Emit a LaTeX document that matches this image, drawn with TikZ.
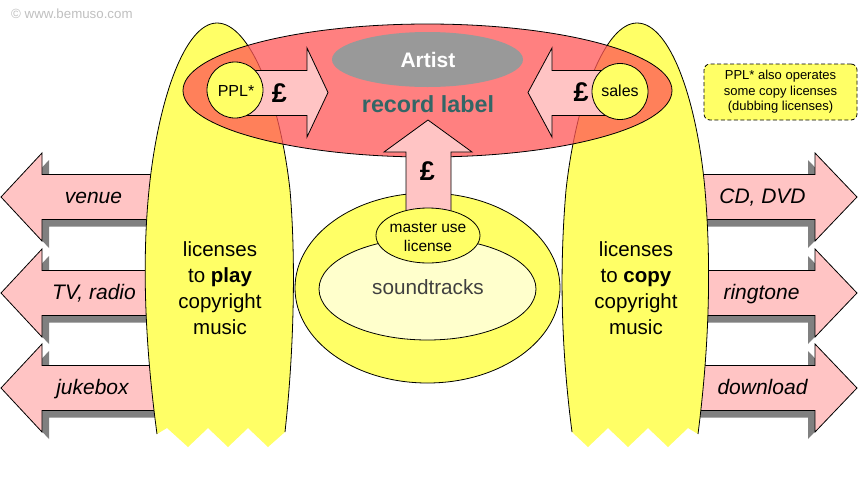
\documentclass[tikz,border=0pt]{standalone}
\usepackage{fontspec}
\setmainfont{Liberation Sans}
\definecolor{ylw}{HTML}{FFFF66}
\definecolor{lylw}{HTML}{FFFFCC}
\definecolor{pinkar}{HTML}{FFC4C4}
\definecolor{shad}{HTML}{808080}
\definecolor{redl}{RGB}{255,86,86}
\definecolor{lbltxt}{HTML}{336666}
\definecolor{artgray}{HTML}{999999}
\definecolor{wmgray}{HTML}{C0C0C0}
\definecolor{sndtxt}{HTML}{404040}
\begin{document}
\begin{tikzpicture}[x=1pt,y=-1pt,
  outl/.style={draw=black,line width=0.8pt},
  parrow/.style={fill=pinkar,draw=black,line width=0.8pt,line join=miter},
  shadowar/.style={fill=shad},
  arlabel/.style={font=\fontsize{21}{25}\selectfont\itshape,anchor=base,inner sep=0pt},
  bigtxt/.style={font=\fontsize{20.5}{26}\selectfont,align=center,inner sep=0pt},
  pound/.style={font=\fontsize{27}{29}\selectfont\bfseries,inner sep=0pt},
  smalltxt/.style={font=\fontsize{16}{19}\selectfont,inner sep=0pt,align=center}
]
\useasboundingbox (0,0) rectangle (864,480);
\fill[white] (0,0) rectangle (864,480);

% watermark
\node[anchor=west,text=wmgray,font=\fontsize{13.3}{15}\selectfont,inner sep=0pt] (wm) at (11,14) {© www.bemuso.com};

% left arrows with shadows
\foreach \c in {197,293,388}{
  \fill[shadowar,shift={(7,7)}] (1,\c) -- (42,\c-44) -- (42,\c-22.5) -- (200,\c-22.5) -- (200,\c+22.5) -- (42,\c+22.5) -- (42,\c+44) -- cycle;
  \path[parrow] (1,\c) -- (42,\c-44) -- (42,\c-22.5) -- (200,\c-22.5) -- (200,\c+22.5) -- (42,\c+22.5) -- (42,\c+44) -- cycle;
}
% right arrows with shadows
\foreach \c in {197,293,388}{
  \fill[shadowar,shift={(-7,7)}] (857,\c) -- (815,\c-44) -- (815,\c-22.5) -- (660,\c-22.5) -- (660,\c+22.5) -- (815,\c+22.5) -- (815,\c+44) -- cycle;
  \path[parrow] (857,\c) -- (815,\c-44) -- (815,\c-22.5) -- (660,\c-22.5) -- (660,\c+22.5) -- (815,\c+22.5) -- (815,\c+44) -- cycle;
}
\node[arlabel] (venue) at (93.5,203.5) {venue};
\node[arlabel] (tvradio) at (94,299.5) {TV, radio};
\node[arlabel] (jukebox) at (92.5,394.5) {jukebox};
\node[arlabel] (cddvd) at (762.5,203.5) {CD, DVD};
\node[arlabel] (ringtone) at (761.5,299.5) {ringtone};
\node[arlabel] (download) at (762.5,394.5) {download};

% left yellow shape
\fill[ylw] (157,434) .. controls (143,330) and (143,250) .. (149,190)
  .. controls (158,100) and (185,23) .. (217,23)
  .. controls (250,23) and (280,100) .. (290,190)
  .. controls (296,260) and (294,350) .. (285,432)
  -- (268,447) -- (248,428) -- (228,447) -- (208,428) -- (188,447) -- (167,428) -- cycle;
\draw[line width=0.8pt] (157,434) .. controls (143,330) and (143,250) .. (149,190)
  .. controls (158,100) and (185,23) .. (217,23)
  .. controls (250,23) and (280,100) .. (290,190)
  .. controls (296,260) and (294,350) .. (285,432);
% right yellow shape
\fill[ylw] (572,432) .. controls (560,340) and (560,260) .. (566,190)
  .. controls (576,100) and (605,23) .. (637,23)
  .. controls (670,23) and (697,100) .. (705,190)
  .. controls (711,260) and (710,340) .. (698,434)
  -- (688,428) -- (668,447) -- (648,428) -- (628,447) -- (608,428) -- (588,447) -- cycle;
\draw[line width=0.8pt] (572,432) .. controls (560,340) and (560,260) .. (566,190)
  .. controls (576,100) and (605,23) .. (637,23)
  .. controls (670,23) and (697,100) .. (705,190)
  .. controls (711,260) and (710,340) .. (698,434);

\node[bigtxt] (play) at (220,288.5) {licenses\\to \textbf{play}\\copyright\\music};
\node[bigtxt] (copy) at (636,288.5) {licenses\\to \textbf{copy}\\copyright\\music};

% record label ellipse (translucent)
\path[fill=redl,fill opacity=0.75,draw=black,line width=0.8pt] (427.5,90.5) ellipse [x radius=244.5pt, y radius=66.5pt];
\fill[artgray] (427.5,59.5) ellipse [x radius=95.5pt, y radius=27.5pt];
\node[font=\fontsize{21}{24}\selectfont\bfseries,text=white,inner sep=0pt] (artist) at (428,59.5) {Artist};
\node[font=\fontsize{23.3}{26}\selectfont\bfseries,text=lbltxt,inner sep=0pt] (label) at (428,104.5) {record label};

% soundtracks
\path[fill=ylw,outl] (427.5,288) ellipse [x radius=132.5pt, y radius=95pt];
% up arrow
\path[parrow] (428,120) -- (472,152) -- (451,152) -- (451,228) -- (406,228) -- (406,152) -- (384,152) -- cycle;
\path[fill=lylw,outl] (427.5,289) ellipse [x radius=108.5pt, y radius=51pt];
\node[font=\fontsize{20.7}{24}\selectfont,text=sndtxt,inner sep=0pt] (sound) at (428,287.5) {soundtracks};
\path[fill=ylw,outl] (428,235.5) ellipse [x radius=52pt, y radius=27.5pt];
\node[font=\fontsize{15.5}{19}\selectfont,align=center,inner sep=0pt] (master) at (428,237) {master use\\license};
\node[pound] (pup) at (427.5,171.5) {£};

% PPL arrow and circle
\path[parrow] (328,92.5) -- (307,48) -- (307,70.5) -- (236,70.5) -- (236,115.5) -- (307,115.5) -- (307,137) -- cycle;
\path[fill=ylw,outl] (235,90) circle[radius=28pt];
\node[smalltxt] (ppl) at (236,91) {PPL*};
\node[pound] (pl) at (279.5,93.5) {£};

% sales arrow and circle
\path[parrow] (528,92.5) -- (552,48) -- (552,70.5) -- (620,70.5) -- (620,115.5) -- (552,115.5) -- (552,137) -- cycle;
\path[fill=ylw,outl] (620,91.5) circle[radius=28pt];
\node[smalltxt] (sales) at (620,91) {sales};
\node[pound] (pr) at (581,92.5) {£};

% note
\node[draw=black,line width=0.8pt,dash pattern=on 4pt off 2.5pt,rounded corners=6pt,fill=ylw,
  minimum width=153pt,minimum height=56pt,align=center,inner sep=0pt,
  font=\fontsize{13}{15.5}\selectfont] (note) at (780.5,92) {PPL* also operates\\some copy licenses\\(dubbing licenses)};
\end{tikzpicture}
\end{document}
